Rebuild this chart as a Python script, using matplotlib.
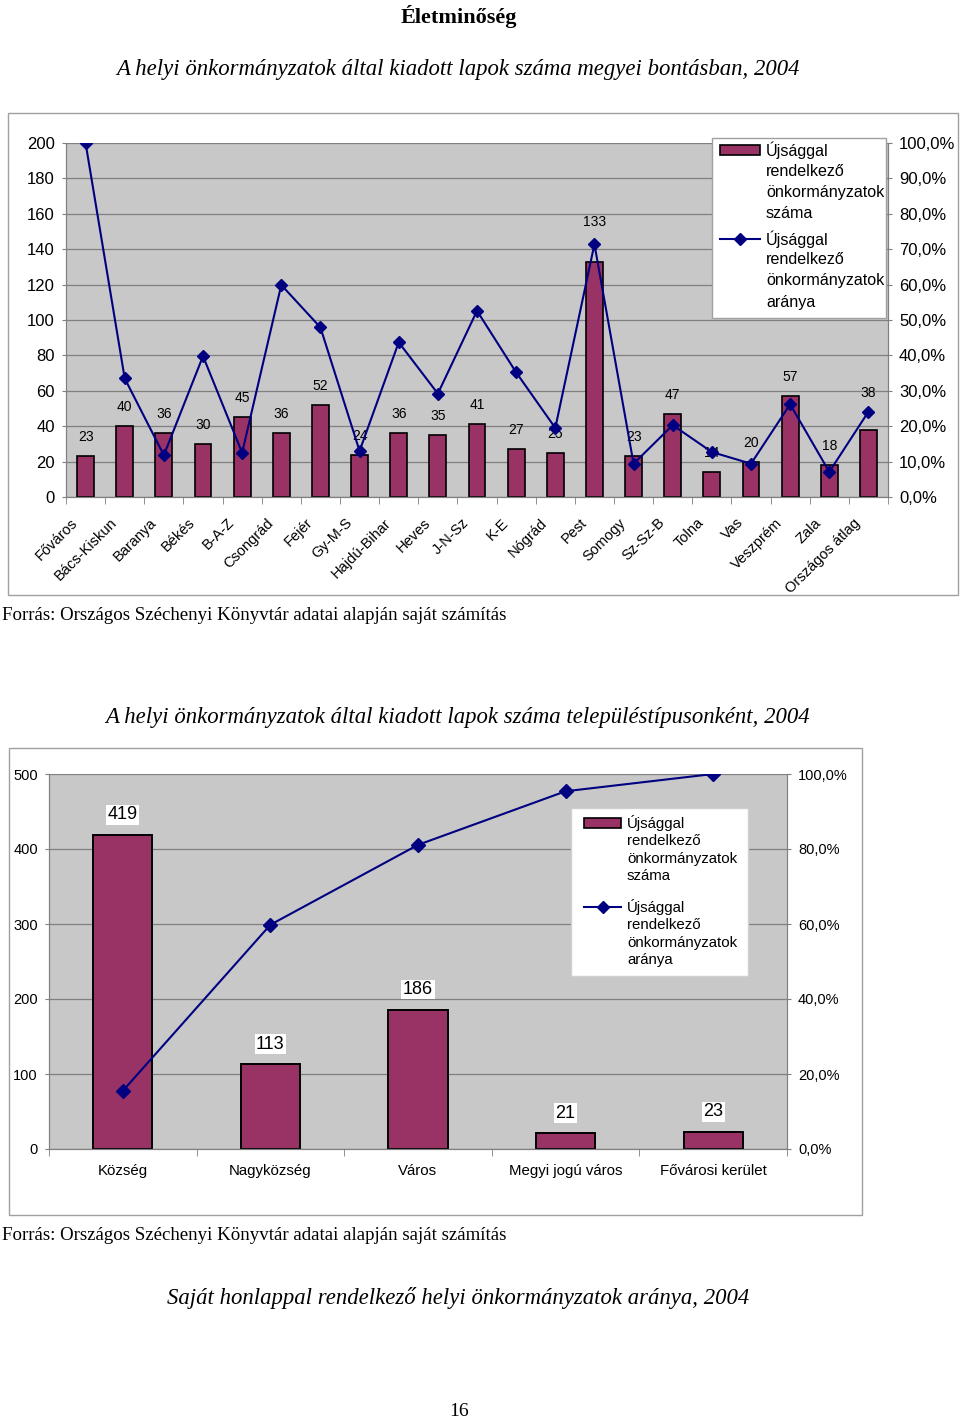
import numpy as np
import matplotlib.pyplot as plt
from matplotlib.patches import Rectangle
from matplotlib.lines import Line2D
from matplotlib.ticker import FuncFormatter
import matplotlib.transforms as mtransforms

plt.rcParams['font.family'] = ['Liberation Sans', 'DejaVu Sans']

# 1. diagram: megyei bontás
megyek = ["Főváros", "Bács-Kiskun", "Baranya", "Békés", "B-A-Z", "Csongrád", "Fejér",
          "Gy-M-S", "Hajdú-Bihar", "Heves", "J-N-Sz", "K-E", "Nógrád", "Pest", "Somogy",
          "Sz-Sz-B", "Tolna", "Vas", "Veszprém", "Zala", "Országos átlag"]
megye_szama = [23, 40, 36, 30, 45, 36, 52, 24, 36, 35, 41, 27, 25, 133, 23, 47, 14, 20, 57, 18, 38]
megye_aranya = [100.0, 33.5, 11.8, 39.8, 12.5, 59.9, 47.9, 13.0, 43.7, 29.2, 52.6, 35.2,
                19.5, 71.4, 9.4, 20.3, 12.7, 9.4, 26.2, 7.1, 24.1]

# 2. diagram: településtípusok
tipusok = ["Község", "Nagyközség", "Város", "Megyi jogú város", "Fővárosi kerület"]
tipus_szama = [419, 113, 186, 21, 23]
tipus_aranya = [15.5, 59.8, 81.1, 95.4, 100.0]

leg_szama = "Újsággal\nrendelkező\nönkormányzatok\nszáma"
leg_aranya = "Újsággal\nrendelkező\nönkormányzatok\naránya"

W, H = 960, 1418
BAR = '#993366'
LINE = '#000080'
BG = '#c8c8c8'
GRID = '#808080'
SERIF = ['Liberation Serif', 'DejaVu Serif']

fig = plt.figure(figsize=(W / 100, H / 100), dpi=100)


def fx(x):
    return x / W


def fy(y):
    return 1 - y / H


def box(l, t, r, b):
    return [l / W, 1 - b / H, (r - l) / W, (b - t) / H]


def frame(l, t, r, b, ec='#a0a0a0', fc='none', lw=1.0):
    fig.add_artist(Rectangle((fx(l), fy(b)), (r - l) / W, (b - t) / H, transform=fig.transFigure,
                             facecolor=fc, edgecolor=ec, lw=lw))


def pct(v, pos):
    return f"{v * 100:.1f}%".replace('.', ',')


def legend(l, t, r, b, x_h, x_t, y1, y2, step, size, ec):
    frame(l, t, r, b, ec=ec, fc='white')
    fig.add_artist(Rectangle((fx(x_h), fy(y1 + 5)), (x_t - 6 - x_h) / W, 10 / H,
                             transform=fig.transFigure, facecolor=BAR, edgecolor='black', lw=1.2))
    fig.add_artist(Line2D([fx(x_h), fx(x_t - 6)], [fy(y2), fy(y2)], transform=fig.transFigure,
                          color=LINE, lw=1.5))
    fig.add_artist(Line2D([fx((x_h + x_t - 6) / 2)], [fy(y2)], transform=fig.transFigure,
                          color=LINE, marker='D', ms=6.5, lw=0))
    for i, s in enumerate(leg_szama.split('\n')):
        fig.text(fx(x_t), fy(y1 + i * step), s, fontsize=size, va='center', ha='left')
    for i, s in enumerate(leg_aranya.split('\n')):
        fig.text(fx(x_t), fy(y2 + i * step), s, fontsize=size, va='center', ha='left')


def style_axes(ax, axb, n, ymax, ystep, size, pad):
    ax.set_facecolor(BG)
    ax.set_xlim(-0.5, n - 0.5)
    ax.set_ylim(0, ymax)
    ax.set_yticks(np.arange(0, ymax + 1, ystep))
    ax.yaxis.grid(True, color=GRID, lw=0.9)
    ax.set_axisbelow(True)
    ax.set_xticks(np.arange(-0.5, n, 1), minor=True)
    ax.tick_params(axis='x', which='major', length=0)
    ax.tick_params(axis='x', which='minor', length=5, color=GRID)
    ax.tick_params(axis='y', length=3, color=GRID, labelsize=size, pad=pad)
    axb.set_ylim(0, 1)
    axb.yaxis.set_major_formatter(FuncFormatter(pct))
    axb.tick_params(axis='y', length=3, color=GRID, labelsize=size, pad=pad)
    for a in (ax, axb):
        a.spines['top'].set_visible(False)
        for s in ('left', 'right', 'bottom'):
            a.spines[s].set_color(GRID)


# fejlécek
fig.text(fx(459), fy(16), "Életminőség", family=SERIF, weight='bold', fontsize=16, ha='center', va='center')
fig.text(fx(458), fy(70), "A helyi önkormányzatok által kiadott lapok száma megyei bontásban, 2004",
         family=SERIF, style='italic', fontsize=16.4, ha='center', va='center')

# 1. diagram
frame(8, 113, 958, 595)
ax1 = fig.add_axes(box(66, 143, 888, 497))
ax1b = ax1.twinx()
x1 = np.arange(len(megyek))
ax1.bar(x1, megye_szama, width=0.43, color=BAR, edgecolor='black', lw=1.2)
ax1b.plot(x1, np.array(megye_aranya) / 100, color=LINE, marker='D', ms=6.5, lw=1.5)
style_axes(ax1, ax1b, len(megyek), 200, 20, 12, 5)
ax1b.set_yticks(np.arange(0, 1.01, 0.1))
ax1.set_xticks(x1)
ax1.set_xticklabels(megyek, rotation=45, ha='right', va='center', rotation_mode='anchor', fontsize=10.5)
ax1.tick_params(axis='x', which='major', pad=17)
shift = mtransforms.ScaledTranslation(-0.1, 0, fig.dpi_scale_trans)
for lab in ax1.get_xticklabels():
    lab.set_transform(lab.get_transform() + shift)
nudge = {"Pest": 21, "Országos átlag": 18}
for xi, name, v in zip(x1, megyek, megye_szama):
    off = (19 + nudge.get(name, 0)) * 0.72
    ax1.annotate(str(v), (xi, v), xytext=(0, off), textcoords='offset points',
                 ha='center', va='center', fontsize=10)

legend(712, 138, 886, 318, 720, 766, 150, 239, 21, 11.6, '#a0a0a0')

fig.text(fx(2), fy(616), "Forrás: Országos Széchenyi Könyvtár adatai alapján saját számítás",
         family=SERIF, fontsize=13.6, ha='left', va='center')

# 2. diagram
fig.text(fx(458), fy(718), "A helyi önkormányzatok által kiadott lapok száma településtípusonként, 2004",
         family=SERIF, style='italic', fontsize=16.4, ha='center', va='center')
frame(9, 748, 862, 1215)
ax2 = fig.add_axes(box(49, 774, 787, 1149))
ax2b = ax2.twinx()
x2 = np.arange(len(tipusok))
ax2.bar(x2, tipus_szama, width=0.4, color=BAR, edgecolor='black', lw=1.4)
ax2b.plot(x2, np.array(tipus_aranya) / 100, color=LINE, marker='D', ms=7, lw=1.5)
style_axes(ax2, ax2b, len(tipusok), 500, 100, 10.5, 5)
ax2b.set_yticks(np.arange(0, 1.01, 0.2))
ax2.set_xticks(x2)
ax2.set_xticklabels(tipusok, fontsize=10.8)
ax2.tick_params(axis='x', which='major', pad=11)
for xi, v in zip(x2, tipus_szama):
    ax2.annotate(str(v), (xi, v), xytext=(0, 20 * 0.72), textcoords='offset points', ha='center',
                 va='center', fontsize=13, bbox=dict(facecolor='white', edgecolor='none', pad=1))

legend(571, 808, 748, 976, 584, 627, 823, 907, 17.8, 10.8, '#d0d0d0')

fig.text(fx(2), fy(1236), "Forrás: Országos Széchenyi Könyvtár adatai alapján saját számítás",
         family=SERIF, fontsize=13.6, ha='left', va='center')

fig.text(fx(458), fy(1298), "Saját honlappal rendelkező helyi önkormányzatok aránya, 2004",
         family=SERIF, style='italic', fontsize=16.4, ha='center', va='center')
fig.text(fx(459), fy(1411), "16", family=SERIF, fontsize=14, ha='center', va='center')

fig.savefig('out.png', dpi=100, facecolor='white')
